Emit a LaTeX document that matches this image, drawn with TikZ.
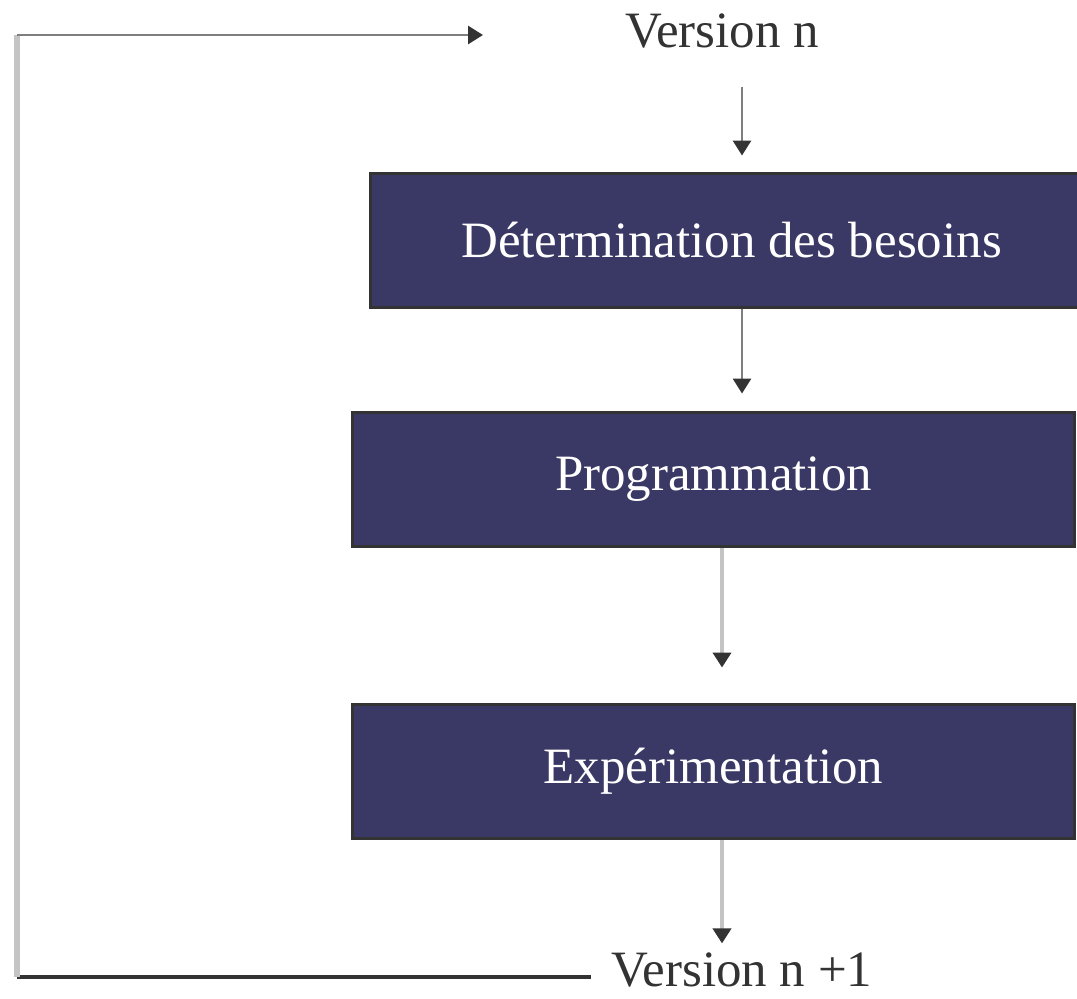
\documentclass[tikz,border=0pt]{standalone}
\usepackage{fontspec}
\setmainfont{Liberation Serif}
\usepackage{tikz}
\usepackage{xcolor}
\usetikzlibrary{arrows.meta}
\definecolor{boxfill}{HTML}{3A3864}
\definecolor{boxline}{HTML}{333333}
\definecolor{midgray}{HTML}{7F7F7F}
\definecolor{lightgray}{HTML}{C4C4C4}
\tikzset{
    phase-box/.style = {draw=boxline, fill=boxfill, line width=1.7pt, rectangle, text=white, minimum width=14.44cm, minimum height=2.68cm, inner sep=0pt},
    version-label/.style = {text=boxline, inner sep=0.05cm, anchor=base},
    phase-tip/.style = {-{Triangle[width=0.36cm, length=0.3cm, color=boxline]}},
    dark-arrow/.style = {phase-tip, draw=midgray, line width=1.6pt},
    light-arrow/.style = {phase-tip, draw=lightgray, line width=2.8pt},
}

\begin{document}
\begin{tikzpicture}[x=0.02cm, y=-0.02cm, font=\fontsize{29}{35}\selectfont]
\useasboundingbox (0,0) rectangle (1077,998);
\clip (0,0) rectangle (1077,998);

\node [version-label] (version-n) at (722,47) {Version n};
\node [phase-box] (besoins) at (731.5,240.5) {Détermination des besoins};
\node [phase-box] (programmation) at (713.5,479.5) {Programmation};
\node [phase-box] (experimentation) at (713.5,771.5) {Expérimentation};
\node [version-label] (version-next) at (742,986) {Version n +1};

% arrow axes and loop corners
\coordinate (axis-a) at (742,0);
\coordinate (axis-b) at (722,0);
\coordinate (loop-bottom) at (17,977);
\coordinate (loop-top) at (17,35);
\coordinate (loop-end) at (483,35);

\draw [dark-arrow, shorten <=0.72cm, shorten >=0.33cm] (version-n.south -| axis-a) -- (besoins.north -| axis-a);
\draw [dark-arrow, shorten >=0.35cm] (besoins.south -| axis-a) -- (programmation.north -| axis-a);
\draw [light-arrow, shorten >=0.71cm] (programmation.south -| axis-b) -- (experimentation.north -| axis-b);
\draw [light-arrow, shorten >=0.12cm] (experimentation.south -| axis-b) -- (version-next.north -| axis-b);

% feedback loop
\draw [boxline, line width=2pt, shorten <=0.35cm] (version-next.west |- loop-bottom) -- (loop-bottom);
\draw [lightgray, line width=3.4pt] (loop-bottom) -- (loop-top);
\draw [dark-arrow] (loop-top) -- (loop-end);
\end{tikzpicture}
\end{document}
